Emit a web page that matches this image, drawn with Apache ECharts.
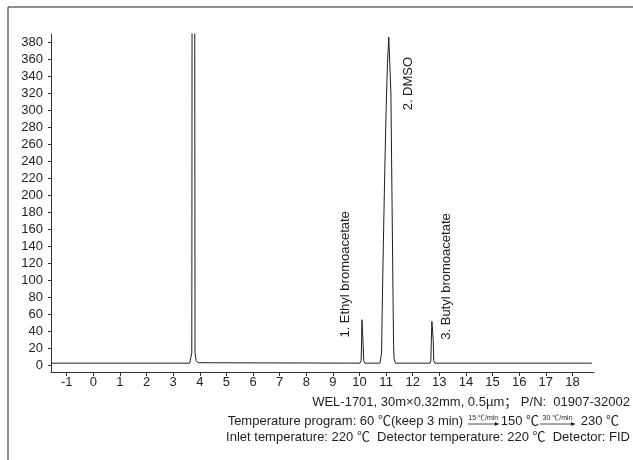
<!DOCTYPE html>
<html>
<head>
<meta charset="utf-8">
<script src="https://cdn.jsdelivr.net/npm/echarts@6/dist/echarts.min.js"></script>
<style>
html,body{margin:0;padding:0;background:#fff;}
#main{width:633px;height:460px;}
</style>
</head>
<body>
<div id="main"></div>
<script>
// ---- data ----
const times = [-1.59, 3.62, 3.67, 3.70, 3.71, 3.81, 3.82, 3.86, 3.93,
  10.02, 10.06, 10.08, 10.09, 10.12, 10.13, 10.16, 10.20,
  10.77, 10.81, 10.83, 10.85, 10.90, 10.95, 11.00, 11.05, 11.10, 11.14, 11.18, 11.22, 11.26, 11.28, 11.30, 11.35,
  12.65, 12.68, 12.70, 12.72, 12.75, 12.77, 12.79, 12.83, 18.73];
const signal = [3, 3, 5, 15, 430, 430, 15, 6, 3.5,
  3, 6, 30, 54, 54, 30, 6, 3,
  3, 5, 15, 60, 150, 230, 300, 355, 386, 388, 320, 200, 80, 25, 8, 3,
  3, 6, 30, 52, 52, 30, 6, 3, 3];
const xTicks = [-1,0,1,2,3,4,5,6,7,8,9,10,11,12,13,14,15,16,17,18];
const yTicks = [0,20,40,60,80,100,120,140,160,180,200,220,240,260,280,300,320,340,360,380];
const peakLabels = ['1. Ethyl bromoacetate', '2. DMSO', '3. Butyl bromoacetate'];
const peakLabelAnchors = [[9.46, 33], [11.82, 300], [13.27, 30.5]];
const footerLine1 = 'WEL-1701, 30m×0.32mm, 0.5µm； P/N:  01907-32002';
const footerLine3 = 'Inlet temperature: 220 ℃  Detector temperature: 220 ℃  Detector: FID';
const progParts = ['Temperature program: 60 ℃(keep 3 min) ', '150 ℃', ' 230 ℃'];
const rateLabels = ['15 ℃/min', '30 ℃/min'];

const FAMILY = '"Liberation Sans", Arial, "Noto Sans CJK SC", sans-serif';
const INK = '#1e1e1e';

const chart = echarts.init(document.getElementById('main'), null, {renderer: 'canvas'});
const option = {
  animation: false,
  backgroundColor: '#fff',
  grid: {left: 51, right: 39, top: 34, bottom: 88, containLabel: false},
  xAxis: {
    type: 'value', min: -1.59, max: 18.81,
    axisLine: {show: true, onZero: false, lineStyle: {color: '#333', width: 1}},
    axisTick: {show: true, length: 4, lineStyle: {color: '#333'}, customValues: xTicks},
    axisLabel: {color: INK, fontSize: 13, fontFamily: FAMILY, margin: 4, customValues: xTicks},
    splitLine: {show: false}
  },
  yAxis: {
    type: 'value', min: -7.4, max: 389.7,
    axisLine: {show: true, onZero: false, lineStyle: {color: '#333', width: 1}},
    axisTick: {show: true, length: 3, lineStyle: {color: '#333'}, customValues: yTicks},
    axisLabel: {color: INK, fontSize: 13, fontFamily: FAMILY, margin: 8, customValues: yTicks},
    splitLine: {show: false}
  },
  series: [{
    type: 'line',
    data: times.map((t, i) => [t, signal[i]]),
    showSymbol: false,
    clip: true,
    lineStyle: {color: INK, width: 1},
    smooth: false
  }]
};
chart.setOption(option);

// ---- annotations ----
const g = [];
g.push({type: 'polyline', shape: {points: [[8, 460], [8, 7], [633, 7]]}, style: {stroke: '#222', lineWidth: 1, fill: null}});
peakLabelAnchors.forEach((a, i) => {
  const p = chart.convertToPixel({gridIndex: 0}, a);
  g.push({type: 'text', x: p[0], y: p[1], rotation: Math.PI / 2,
    style: {text: peakLabels[i], fill: INK, font: '13px ' + FAMILY, align: 'left', verticalAlign: 'middle'}});
});

const ctx = document.createElement('canvas').getContext('2d');
const FS = 13;
const mainFont = FS + 'px ' + FAMILY;
const smallFont = '7px ' + FAMILY;
function w(s, f) { ctx.font = f; return ctx.measureText(s).width; }

const R1 = 630, R2 = 619, R3 = 630;
const Y1 = 402, Y2 = 421, Y3 = 437;
g.push({type: 'text', x: R1, y: Y1, style: {text: footerLine1, fill: INK, font: mainFont, align: 'right', verticalAlign: 'middle'}});
g.push({type: 'text', x: R3, y: Y3, style: {text: footerLine3, fill: INK, font: mainFont, align: 'right', verticalAlign: 'middle'}});

// line 2 layout
const arrowW = [34, 38];
const total = w(progParts[0], mainFont) + arrowW[0] + w(progParts[1], mainFont) + arrowW[1] + w(progParts[2], mainFont);
let x = R2 - total;
function addText(s) {
  g.push({type: 'text', x: x, y: Y2, style: {text: s, fill: INK, font: mainFont, align: 'left', verticalAlign: 'middle'}});
  x += w(s, mainFont);
}
function addArrow(i) {
  const x0 = x + 1, x1 = x + arrowW[i] - 2, ay = Y2 + 3;
  g.push({type: 'line', shape: {x1: x0, y1: ay, x2: x1, y2: ay}, style: {stroke: INK, lineWidth: 0.8}});
  g.push({type: 'polygon', shape: {points: [[x1, ay], [x1 - 4, ay - 2], [x1 - 4, ay + 2]]}, style: {fill: INK}});
  g.push({type: 'text', x: (x0 + x1) / 2, y: ay - 2, style: {text: rateLabels[i], fill: INK, font: smallFont, align: 'center', verticalAlign: 'bottom'}});
  x += arrowW[i];
}
addText(progParts[0]);
addArrow(0);
addText(progParts[1]);
addArrow(1);
addText(progParts[2]);

chart.setOption({graphic: g});
</script>
</body>
</html>
